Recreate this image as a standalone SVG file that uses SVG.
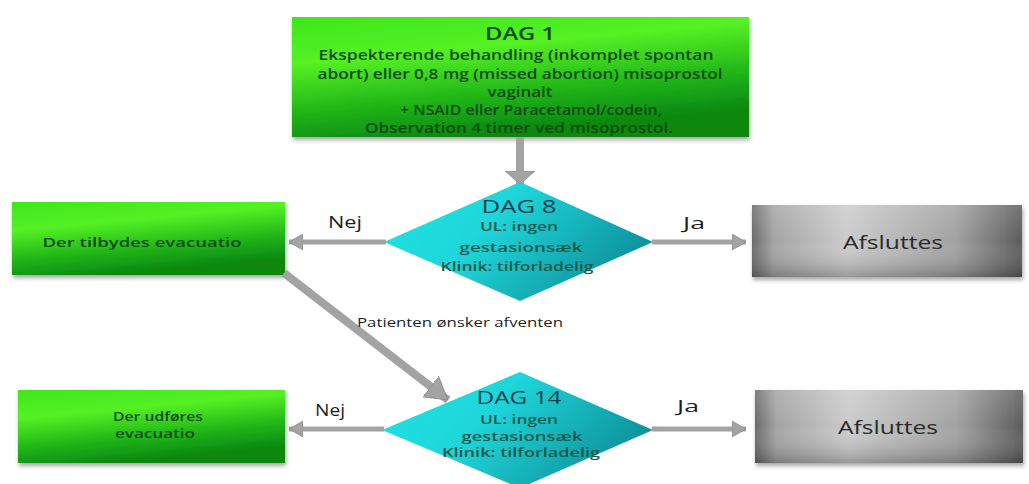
<svg xmlns="http://www.w3.org/2000/svg" width="1029" height="484" viewBox="0 0 1029 484">
<defs>
<linearGradient id="gGreen" x1="0" y1="0" x2="0.35" y2="1">
<stop offset="0" stop-color="#3ee61c"/>
<stop offset="0.35" stop-color="#55f124"/>
<stop offset="0.7" stop-color="#22b818"/>
<stop offset="1" stop-color="#0a8810"/>
</linearGradient>
<linearGradient id="gCyan" x1="0" y1="0" x2="1" y2="0.4">
<stop offset="0" stop-color="#1ee4e4"/>
<stop offset="0.45" stop-color="#1fd6da"/>
<stop offset="1" stop-color="#0e96a0"/>
</linearGradient>
<linearGradient id="gGray" x1="0" y1="0" x2="1" y2="0">
<stop offset="0" stop-color="#6a6a6a"/>
<stop offset="0.08" stop-color="#a4a4a4"/>
<stop offset="0.35" stop-color="#cbcbcb"/>
<stop offset="0.75" stop-color="#a2a2a2"/>
<stop offset="1" stop-color="#5c5c5c"/>
</linearGradient>
<linearGradient id="gShade" x1="0" y1="0" x2="0" y2="1">
<stop offset="0" stop-color="#ffffff" stop-opacity="0.15"/>
<stop offset="0.5" stop-color="#ffffff" stop-opacity="0"/>
<stop offset="1" stop-color="#000000" stop-opacity="0.25"/>
</linearGradient>
<filter id="shadow" x="-5%" y="-10%" width="110%" height="130%">
<feDropShadow dx="1" dy="3" stdDeviation="2" flood-color="#000" flood-opacity="0.35"/>
</filter>
<marker id="head" markerUnits="userSpaceOnUse" markerWidth="16" markerHeight="18" refX="14" refY="8" orient="auto">
<path d="M0,0 L14,8 L0,16 z" fill="#a3a3a3" stroke="#8a8a8a" stroke-width="0.8"/>
</marker>
<marker id="headWide" markerUnits="userSpaceOnUse" markerWidth="16" markerHeight="32" refX="13" refY="15" orient="auto">
<path d="M0,0 L13,15 L0,30 z" fill="#a3a3a3" stroke="#8a8a8a" stroke-width="0.8"/>
</marker>
<marker id="headDiag" markerUnits="userSpaceOnUse" markerWidth="26" markerHeight="28" refX="22" refY="13" orient="auto">
<path d="M0,0 L22,13 L0,26 z" fill="#a3a3a3" stroke="#8a8a8a" stroke-width="0.8"/>
</marker>
</defs>
<style>
.box{fill:url(#gGreen);filter:url(#shadow);}
.grey{fill:url(#gGray);filter:url(#shadow);}
.dia{fill:url(#gCyan);}
.conn{stroke:#a3a3a3;fill:none;}
.gt{font-family:"Open Sans","Liberation Sans",sans-serif;font-weight:600;fill:#0b4a0e;text-anchor:middle;}
.dt{font-family:"Open Sans","Liberation Sans",sans-serif;fill:#0b3f4c;text-anchor:middle;}
.ds{font-family:"Open Sans","Liberation Sans",sans-serif;font-weight:600;fill:#145a4a;text-anchor:middle;}
.at{font-family:"Open Sans","Liberation Sans",sans-serif;fill:#2a2a2a;text-anchor:middle;}
.lbl{font-family:"Open Sans","Liberation Sans",sans-serif;fill:#1e1e1e;}
</style>
<g id="node-dag1">
<rect class="box" x="292" y="17" width="457" height="120"/>
<text class="gt" x="520" y="40" font-size="18" font-weight="400" textLength="70" lengthAdjust="spacingAndGlyphs">DAG 1</text>
<text class="gt" x="516" y="60" font-size="14" textLength="395" lengthAdjust="spacingAndGlyphs">Ekspekterende behandling (inkomplet spontan</text>
<text class="gt" x="520" y="79" font-size="14" textLength="405" lengthAdjust="spacingAndGlyphs">abort) eller 0,8 mg (missed abortion) misoprostol</text>
<text class="gt" x="520" y="97" font-size="14" textLength="65" lengthAdjust="spacingAndGlyphs">vaginalt</text>
<text class="gt" x="531" y="115" font-size="14" textLength="262" lengthAdjust="spacingAndGlyphs">+ NSAID eller Paracetamol/codein,</text>
<text class="gt" x="519" y="133" font-size="14" textLength="308" lengthAdjust="spacingAndGlyphs">Observation 4 timer ved misoprostol.</text>
</g>
<g id="node-dag8">
<polygon class="dia" points="520,182 653,242 520,301 384,242"/>
<text class="dt" x="519" y="213" font-size="18" textLength="75" lengthAdjust="spacingAndGlyphs">DAG 8</text>
<text class="ds" x="519" y="231" font-size="13" textLength="78" lengthAdjust="spacingAndGlyphs">UL: ingen</text>
<text class="ds" x="521" y="252" font-size="13" textLength="123" lengthAdjust="spacingAndGlyphs">gestasionsæk</text>
<text class="ds" x="517" y="271" font-size="13" textLength="153" lengthAdjust="spacingAndGlyphs">Klinik: tilforladelig</text>
</g>
<g id="node-tilbydes">
<rect class="box" x="12" y="202" width="273" height="73"/>
<text class="gt" x="142" y="247" font-size="12.5" textLength="199" lengthAdjust="spacingAndGlyphs">Der tilbydes evacuatio</text>
</g>
<g id="node-afslut1">
<rect class="grey" x="752" y="205" width="270" height="72"/>
<rect x="752" y="205" width="270" height="72" fill="url(#gShade)"/>
<text class="at" x="893" y="249" font-size="19" textLength="100" lengthAdjust="spacingAndGlyphs">Afsluttes</text>
</g>
<g id="node-dag14">
<polygon class="dia" points="520,372 653,430 520,488 382,430"/>
<text class="dt" x="519" y="404" font-size="18" textLength="85" lengthAdjust="spacingAndGlyphs">DAG 14</text>
<text class="ds" x="519" y="424" font-size="13" textLength="78" lengthAdjust="spacingAndGlyphs">UL: ingen</text>
<text class="ds" x="522" y="441" font-size="13" textLength="121" lengthAdjust="spacingAndGlyphs">gestasionsæk</text>
<text class="ds" x="521" y="457" font-size="13" textLength="158" lengthAdjust="spacingAndGlyphs">Klinik: tilforladelig</text>
</g>
<g id="node-udfoeres">
<rect class="box" x="18" y="390" width="267" height="73"/>
<text class="gt" x="158" y="421" font-size="12.5" textLength="90" lengthAdjust="spacingAndGlyphs">Der udføres</text>
<text class="gt" x="155" y="438" font-size="12.5" textLength="80" lengthAdjust="spacingAndGlyphs">evacuatio</text>
</g>
<g id="node-afslut2">
<rect class="grey" x="755" y="390" width="268" height="73"/>
<rect x="755" y="390" width="268" height="73" fill="url(#gShade)"/>
<text class="at" x="888" y="434" font-size="19" textLength="100" lengthAdjust="spacingAndGlyphs">Afsluttes</text>
</g>
<g id="connectors">
<line class="conn" x1="520" y1="137" x2="520" y2="184" stroke-width="8" marker-end="url(#headWide)"/>
<line class="conn" x1="386" y1="242" x2="289" y2="242" stroke-width="5" marker-end="url(#head)"/>
<line class="conn" x1="652" y1="242" x2="746" y2="242" stroke-width="5" marker-end="url(#head)"/>
<line class="conn" x1="284" y1="273" x2="448" y2="400" stroke-width="8" marker-end="url(#headDiag)"/>
<line class="conn" x1="384" y1="429" x2="289" y2="429" stroke-width="5" marker-end="url(#head)"/>
<line class="conn" x1="652" y1="429" x2="746" y2="429" stroke-width="5" marker-end="url(#head)"/>
<text class="lbl" x="328" y="228" font-size="17" textLength="34" lengthAdjust="spacingAndGlyphs">Nej</text>
<text class="lbl" x="683" y="229" font-size="17" textLength="22" lengthAdjust="spacingAndGlyphs">Ja</text>
<text class="lbl" x="357" y="327" font-size="13" textLength="206" lengthAdjust="spacingAndGlyphs">Patienten ønsker  afventen</text>
<text class="lbl" x="315" y="416" font-size="17" textLength="30" lengthAdjust="spacingAndGlyphs">Nej</text>
<text class="lbl" x="677" y="412" font-size="17" textLength="22" lengthAdjust="spacingAndGlyphs">Ja</text>
</g>
</svg>
